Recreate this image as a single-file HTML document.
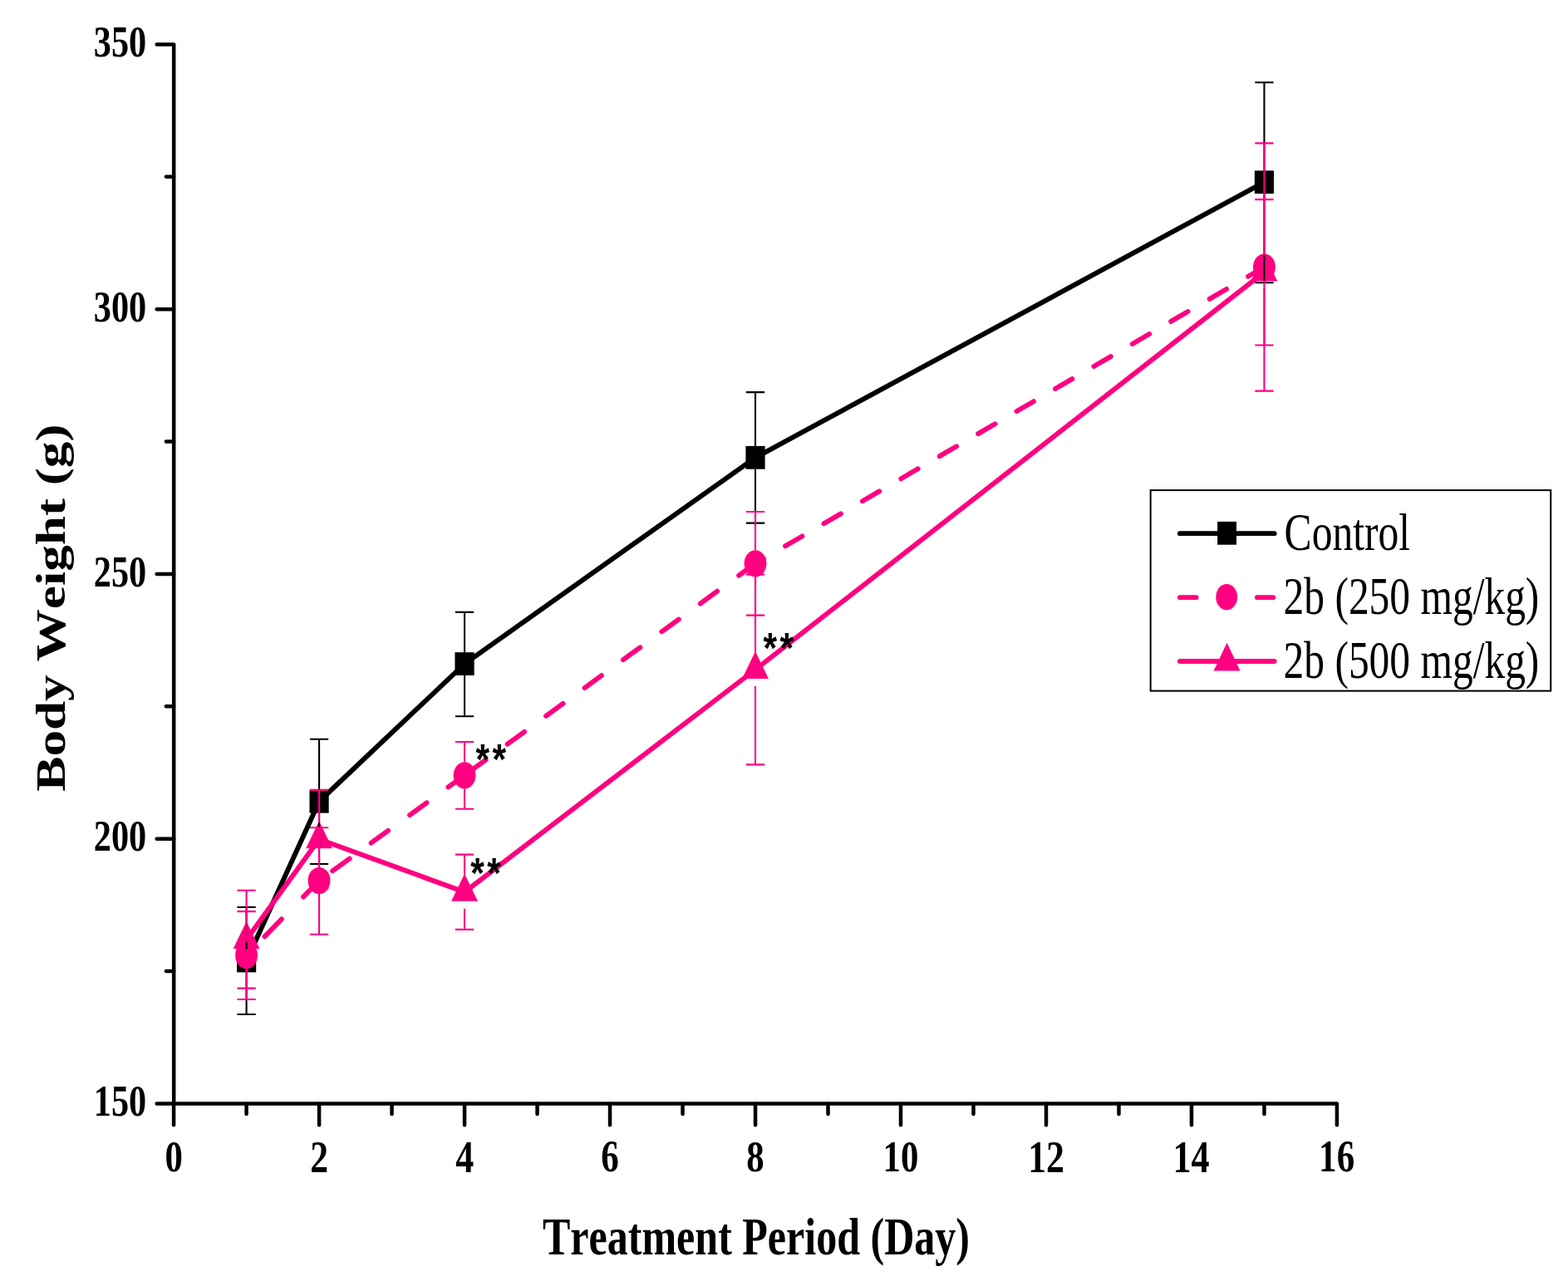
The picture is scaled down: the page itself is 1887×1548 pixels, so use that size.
<!DOCTYPE html><html><head><meta charset="utf-8"><title>Body Weight vs Treatment Period</title><style>html,body{margin:0;padding:0;background:#fff;overflow:hidden}svg{display:block}</style></head><body>
<svg width="1887" height="1548" viewBox="0 0 1887 1548" style="font-kerning:none">
<rect width="1887" height="1548" fill="#fff"/>
<path d="M209.2,53.5V1328.4H1608.94" fill="none" stroke="#000" stroke-width="4.5" stroke-linejoin="miter"/>
<path d="M209.2,1328.40H188.65M209.2,1009.68H188.65M209.2,690.95H188.65M209.2,372.23H188.65M209.2,53.50H188.65M209.2,1169.04H199.9M209.2,850.31H199.9M209.2,531.59H199.9M209.2,212.86H199.9M209.10,1328.4V1354.2M384.08,1328.4V1354.2M559.06,1328.4V1354.2M734.04,1328.4V1354.2M909.02,1328.4V1354.2M1084.00,1328.4V1354.2M1258.98,1328.4V1354.2M1433.96,1328.4V1354.2M1608.94,1328.4V1354.2M296.59,1328.4V1340.9M471.57,1328.4V1340.9M646.55,1328.4V1340.9M821.53,1328.4V1340.9M996.51,1328.4V1340.9M1171.49,1328.4V1340.9M1346.47,1328.4V1340.9M1521.45,1328.4V1340.9" fill="none" stroke="#000" stroke-width="4.5" stroke-linecap="round"/>
<text transform="translate(112.81,1343.22) scale(0.7900,1.0000)" font-family="'Liberation Serif', serif" font-weight="bold" font-size="53.48" fill="#000">150</text>
<text transform="translate(112.81,1024.49) scale(0.7900,1.0000)" font-family="'Liberation Serif', serif" font-weight="bold" font-size="53.48" fill="#000">200</text>
<text transform="translate(112.81,705.77) scale(0.7900,1.0000)" font-family="'Liberation Serif', serif" font-weight="bold" font-size="53.48" fill="#000">250</text>
<text transform="translate(112.81,387.04) scale(0.7900,1.0000)" font-family="'Liberation Serif', serif" font-weight="bold" font-size="53.48" fill="#000">300</text>
<text transform="translate(112.81,68.32) scale(0.7900,1.0000)" font-family="'Liberation Serif', serif" font-weight="bold" font-size="53.48" fill="#000">350</text>
<text transform="translate(198.40,1410.17) scale(0.8000,1.0000)" font-family="'Liberation Serif', serif" font-weight="bold" font-size="53.48" fill="#000">0</text>
<text transform="translate(373.25,1410.70) scale(0.8000,1.0000)" font-family="'Liberation Serif', serif" font-weight="bold" font-size="54.70" fill="#000">2</text>
<text transform="translate(548.15,1410.70) scale(0.8000,1.0000)" font-family="'Liberation Serif', serif" font-weight="bold" font-size="55.11" fill="#000">4</text>
<text transform="translate(723.16,1410.16) scale(0.8000,1.0000)" font-family="'Liberation Serif', serif" font-weight="bold" font-size="53.88" fill="#000">6</text>
<text transform="translate(898.32,1410.17) scale(0.8000,1.0000)" font-family="'Liberation Serif', serif" font-weight="bold" font-size="53.48" fill="#000">8</text>
<text transform="translate(1062.55,1410.17) scale(0.8000,1.0000)" font-family="'Liberation Serif', serif" font-weight="bold" font-size="53.48" fill="#000">10</text>
<text transform="translate(1237.14,1410.70) scale(0.8000,1.0000)" font-family="'Liberation Serif', serif" font-weight="bold" font-size="54.70" fill="#000">12</text>
<text transform="translate(1411.39,1410.70) scale(0.8000,1.0000)" font-family="'Liberation Serif', serif" font-weight="bold" font-size="55.11" fill="#000">14</text>
<text transform="translate(1587.11,1410.16) scale(0.8000,1.0000)" font-family="'Liberation Serif', serif" font-weight="bold" font-size="53.88" fill="#000">16</text>
<text transform="translate(652.95,1510.37) scale(0.7882,0.9921)" font-family="'Liberation Serif', serif" font-weight="bold" font-size="63.50" fill="#000">Treatment Period (Day)</text>
<text transform="translate(77.93,952.75) scale(0.7964,1.0000) rotate(-90)" font-family="'Liberation Serif', serif" font-weight="bold" font-size="63.20" fill="#000">Body Weight (g)</text>
<polyline points="296.59,1156.50 384.08,964.75 559.06,799.10 909.02,550.80 1521.45,219.30" fill="none" stroke="#000" stroke-width="5.9" stroke-linejoin="round" stroke-linecap="round"/>
<g stroke="#FF0080" stroke-width="5.9" stroke-linecap="round" fill="none"><line x1="296.59" y1="1150.00" x2="384.08" y2="1060.00" stroke-dasharray="29.27 37.33" stroke-dashoffset="35.09"/><line x1="384.08" y1="1060.00" x2="559.06" y2="933.30" stroke-dasharray="25.19 32.12" stroke-dashoffset="37.37"/><line x1="559.06" y1="933.30" x2="909.02" y2="678.30" stroke-dasharray="25.24 32.19" stroke-dashoffset="50.96"/><line x1="909.02" y1="678.30" x2="1521.45" y2="321.50" stroke-dasharray="23.61 30.11" stroke-dashoffset="12.04"/></g>
<polyline points="296.59,1131.00 384.08,1010.20 559.06,1073.80 909.02,806.00 1521.45,327.60" fill="none" stroke="#FF0080" stroke-width="5.9" stroke-linejoin="round" stroke-linecap="round"/>
<rect x="284.99" y="1142.60" width="23.2" height="27.8" fill="#000"/>
<rect x="372.48" y="950.85" width="23.2" height="27.8" fill="#000"/>
<rect x="547.46" y="785.20" width="23.2" height="27.8" fill="#000"/>
<rect x="897.42" y="536.90" width="23.2" height="27.8" fill="#000"/>
<rect x="1509.85" y="205.40" width="23.2" height="27.8" fill="#000"/>
<ellipse cx="296.59" cy="1150.00" rx="13.45" ry="16.1" fill="#FF0080"/>
<ellipse cx="384.08" cy="1060.00" rx="13.45" ry="16.1" fill="#FF0080"/>
<ellipse cx="559.06" cy="933.30" rx="13.45" ry="16.1" fill="#FF0080"/>
<ellipse cx="909.02" cy="678.30" rx="13.45" ry="16.1" fill="#FF0080"/>
<ellipse cx="1521.45" cy="321.50" rx="13.45" ry="16.1" fill="#FF0080"/>
<path d="M296.59,1109.00L312.49,1142.00L280.69,1142.00ZM384.08,988.20L399.98,1021.20L368.18,1021.20ZM559.06,1051.80L574.96,1084.80L543.16,1084.80ZM909.02,784.00L924.92,817.00L893.12,817.00ZM1521.45,305.60L1537.35,338.60L1505.55,338.60Z" fill="#FF0080"/>
<path d="M296.59,1142.60V1092.00M285.44,1092.00H307.74M296.59,1170.40V1221.00M285.44,1221.00H307.74M384.08,950.85V889.70M372.93,889.70H395.23M384.08,978.65V1040.00M372.93,1040.00H395.23M559.06,785.20V736.90M547.91,736.90H570.21M559.06,813.00V862.20M547.91,862.20H570.21M909.02,536.90V472.10M897.87,472.10H920.17M909.02,564.70V629.60M897.87,629.60H920.17M1521.45,205.40V99.30M1510.30,99.30H1532.60M1521.45,233.20V340.20M1510.30,340.20H1532.60" fill="none" stroke="#000" stroke-width="2.1"/>
<path d="M296.59,1133.90V1097.10M285.44,1097.10H307.74M296.59,1166.10V1203.00M285.44,1203.00H307.74M384.08,1043.90V996.30M372.93,996.30H395.23M384.08,1076.10V1124.80M372.93,1124.80H395.23M559.06,917.20V893.00M547.91,893.00H570.21M559.06,949.40V973.80M547.91,973.80H570.21M909.02,662.20V616.00M897.87,616.00H920.17M909.02,694.40V740.60M897.87,740.60H920.17M1521.45,305.40V172.40M1510.30,172.40H1532.60M1521.45,337.60V470.60M1510.30,470.60H1532.60" fill="none" stroke="#FF0080" stroke-width="2.1"/>
<path d="M296.59,1111.00V1071.80M285.44,1071.80H307.74M296.59,1151.00V1189.60M285.44,1189.60H307.74M384.08,990.20V950.90M372.93,950.90H395.23M384.08,1030.20V1069.50M372.93,1069.50H395.23M559.06,1053.80V1028.60M547.91,1028.60H570.21M559.06,1093.80V1118.90M547.91,1118.90H570.21M909.02,786.00V691.60M897.87,691.60H920.17M909.02,826.00V920.40M897.87,920.40H920.17M1521.45,307.60V240.10M1510.30,240.10H1532.60M1521.45,347.60V415.50M1510.30,415.50H1532.60" fill="none" stroke="#FF0080" stroke-width="2.1"/>
<text transform="translate(572.49,931.82) scale(0.8258,1)" font-family="'Liberation Sans', sans-serif" font-weight="bold" font-size="51.62" letter-spacing="4.14" fill="#000">**</text>
<text transform="translate(566.29,1068.72) scale(0.8258,1)" font-family="'Liberation Sans', sans-serif" font-weight="bold" font-size="51.62" letter-spacing="4.14" fill="#000">**</text>
<text transform="translate(918.49,797.52) scale(0.8258,1)" font-family="'Liberation Sans', sans-serif" font-weight="bold" font-size="51.62" letter-spacing="4.14" fill="#000">**</text>
<rect x="1384.65" y="590.1" width="481.6" height="241.55" fill="none" stroke="#000" stroke-width="2"/>
<path d="M1419.9,642.15H1533.6" stroke="#000" stroke-width="5.9" stroke-linecap="round"/>
<rect x="1465.10" y="627.90" width="22.9" height="27.8" fill="#000"/>
<path d="M1419.9,719.15H1439.6M1512.9,719.15H1532.3" stroke="#FF0080" stroke-width="5.9" stroke-linecap="round"/>
<ellipse cx="1476.2" cy="718.65" rx="12.9" ry="15.75" fill="#FF0080"/>
<path d="M1419.9,796H1533.6" stroke="#FF0080" stroke-width="5.9" stroke-linecap="round"/>
<path d="M1476.55,773.80L1492.50,807.40L1460.60,807.40Z" fill="#FF0080"/>
<text transform="translate(1545.62,662.36) scale(0.7803,1.0101)" font-family="'Liberation Serif', serif" font-weight="normal" font-size="63.50" fill="#000">Control</text>
<text transform="translate(1544.57,738.75) scale(0.7793,0.9939)" font-family="'Liberation Serif', serif" font-weight="normal" font-size="63.50" fill="#000">2b (250 mg/kg)</text>
<text transform="translate(1544.57,815.92) scale(0.7793,0.9956)" font-family="'Liberation Serif', serif" font-weight="normal" font-size="63.50" fill="#000">2b (500 mg/kg)</text>
</svg></body></html>
